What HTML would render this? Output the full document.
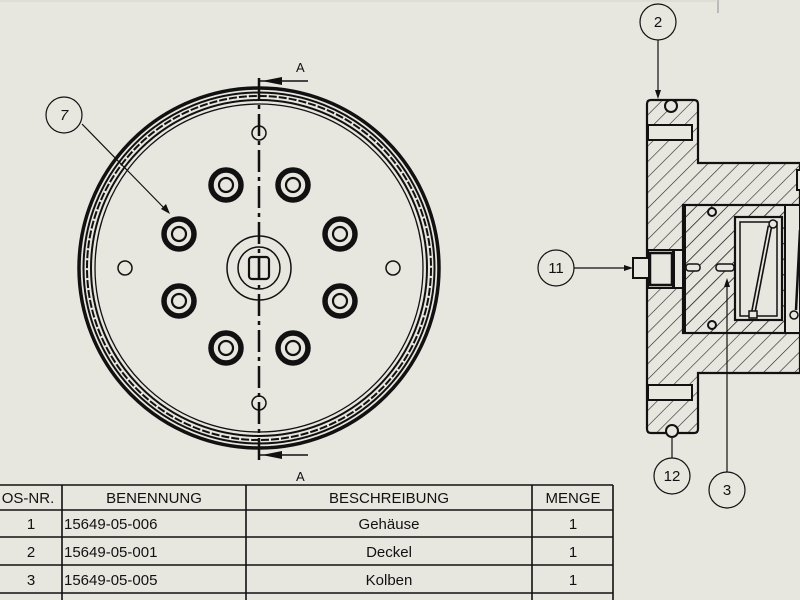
<!DOCTYPE html>
<html><head><meta charset="utf-8"><style>
html,body{margin:0;padding:0;background:#e7e6df;}
svg{display:block}
text{font-family:"Liberation Sans",sans-serif;fill:#111}
</style></head><body>
<svg width="800" height="600" viewBox="0 0 800 600" xmlns="http://www.w3.org/2000/svg">
<defs>
<pattern id="h" width="11" height="11" patternUnits="userSpaceOnUse" patternTransform="rotate(45)">
<line x1="0" y1="0" x2="0" y2="11" stroke="#222" stroke-width="1.2"/>
</pattern>
</defs>
<rect width="800" height="600" fill="#e7e6df"/>
<line x1="718" y1="0" x2="718" y2="13" stroke="#bbb" stroke-width="2"/>
<line x1="0" y1="1" x2="718" y2="1" stroke="#d6d5ce" stroke-width="1"/>

<!-- front view -->
<g fill="none" stroke="#111">
<circle cx="259" cy="268" r="180" stroke-width="3.5"/>
<circle cx="259" cy="268" r="175.5" stroke-width="2"/>
<circle cx="259" cy="268" r="172" stroke-width="2" stroke-dasharray="8 2"/>
<circle cx="259" cy="268" r="168" stroke-width="2"/>
<circle cx="259" cy="268" r="164" stroke-width="1.3"/>
<circle cx="259" cy="268" r="32" stroke-width="1.5"/>
<circle cx="259" cy="268" r="21" stroke-width="1.5"/>
<rect x="249" y="257" width="20" height="22" rx="3" stroke-width="2.2"/>
<line x1="259" y1="257" x2="259" y2="279" stroke-width="2.2"/>
<circle cx="125" cy="268" r="7" stroke-width="1.5"/>
<circle cx="393" cy="268" r="7" stroke-width="1.5"/>
<circle cx="259" cy="133" r="7" stroke-width="1.5"/>
<circle cx="259" cy="403" r="7" stroke-width="1.5"/>
<g stroke-width="5.5">
<circle cx="226" cy="185" r="15"/><circle cx="293" cy="185" r="15"/>
<circle cx="340" cy="234" r="15"/><circle cx="340" cy="301" r="15"/>
<circle cx="293" cy="348" r="15"/><circle cx="226" cy="348" r="15"/>
<circle cx="179" cy="301" r="15"/><circle cx="179" cy="234" r="15"/>
</g>
<g stroke-width="2.2">
<circle cx="226" cy="185" r="7"/><circle cx="293" cy="185" r="7"/>
<circle cx="340" cy="234" r="7"/><circle cx="340" cy="301" r="7"/>
<circle cx="293" cy="348" r="7"/><circle cx="226" cy="348" r="7"/>
<circle cx="179" cy="301" r="7"/><circle cx="179" cy="234" r="7"/>
</g>
<line x1="259" y1="78" x2="259" y2="462" stroke-width="2.5" stroke-dasharray="22 5 4 5"/>
<line x1="259" y1="81" x2="308" y2="81" stroke-width="1.5"/>
<line x1="259" y1="455" x2="308" y2="455" stroke-width="1.5"/>
</g>
<polygon points="262,81 282,77 282,85" fill="#111"/>
<polygon points="262,455 282,451 282,459" fill="#111"/>
<text x="296" y="72" font-size="13">A</text>
<text x="296" y="481" font-size="13">A</text>
<!-- balloon 7 -->
<circle cx="64" cy="115" r="18" fill="none" stroke="#111" stroke-width="1.2"/>
<text x="64" y="120" font-size="15" text-anchor="middle" font-style="italic">7</text>
<line x1="82" y1="124" x2="166" y2="210" stroke="#111" stroke-width="1.2"/>
<polygon points="170,214 161,209 166,204" fill="#111"/>

<!-- section view -->
<path d="M647,104 Q647,100 651,100 L694,100 Q698,100 698,104 L698,163 L800,163 L800,373 L698,373 L698,429 Q698,433 694,433 L651,433 Q647,433 647,429 Z" fill="url(#h)" stroke="#111" stroke-width="2.2"/>
<rect x="648" y="125" width="44" height="15" fill="#e7e6df" stroke="#111" stroke-width="2"/>
<rect x="648" y="385" width="44" height="15" fill="#e7e6df" stroke="#111" stroke-width="2"/>
<circle cx="671" cy="106" r="6" fill="#e7e6df" stroke="#111" stroke-width="2"/>
<circle cx="672" cy="431" r="6" fill="#e7e6df" stroke="#111" stroke-width="2"/>
<rect x="683" y="205" width="117" height="128" fill="url(#h)" stroke="#111" stroke-width="2.2"/>
<rect x="735" y="217" width="47" height="103" fill="#e7e6df" stroke="#111" stroke-width="2.2"/>
<rect x="740" y="222" width="37" height="94" fill="none" stroke="#111" stroke-width="1.5"/>
<rect x="785" y="205" width="15" height="128" fill="#e7e6df" stroke="#111" stroke-width="2"/>
<path d="M753,314 L770,226" stroke="#111" stroke-width="5" fill="none"/>
<path d="M753,314 L770,226" stroke="#e7e6df" stroke-width="1.8" fill="none"/>
<circle cx="773" cy="224" r="4" fill="#e7e6df" stroke="#111" stroke-width="1.5"/>
<rect x="749" y="311" width="8" height="7" fill="#e7e6df" stroke="#111" stroke-width="1.5"/>
<path d="M796,310 L800,230" stroke="#111" stroke-width="2.5"/>
<circle cx="794" cy="315" r="4" fill="#e7e6df" stroke="#111" stroke-width="1.5"/>
<circle cx="712" cy="212" r="4" fill="#e7e6df" stroke="#111" stroke-width="2"/>
<circle cx="712" cy="325" r="4" fill="#e7e6df" stroke="#111" stroke-width="2"/>
<rect x="797" y="170" width="6" height="20" fill="#e7e6df" stroke="#111" stroke-width="2"/>
<!-- fitting -->
<rect x="648" y="250" width="35" height="38" fill="#e7e6df" stroke="#111" stroke-width="2"/>
<rect x="650" y="253" width="22" height="32" fill="none" stroke="#111" stroke-width="2.5"/>
<rect x="672" y="250" width="3" height="38" fill="#111"/>
<rect x="633" y="258" width="16" height="20" fill="#e7e6df" stroke="#111" stroke-width="2"/>
<rect x="683" y="205" width="3" height="128" fill="#111"/>
<rect x="686" y="264" width="14" height="7" rx="3" fill="#e7e6df" stroke="#111" stroke-width="1.5"/>
<rect x="716" y="264" width="18" height="7" rx="3" fill="#e7e6df" stroke="#111" stroke-width="1.5"/>

<!-- balloons -->
<g fill="none" stroke="#111" stroke-width="1.2">
<circle cx="658" cy="22" r="18"/><line x1="658" y1="40" x2="658" y2="93"/>
<circle cx="556" cy="268" r="18"/><line x1="574" y1="268" x2="627" y2="268"/>
<circle cx="672" cy="476" r="18"/><line x1="672" y1="458" x2="672" y2="437"/>
<circle cx="727" cy="490" r="18"/><line x1="727" y1="472" x2="727" y2="283"/>
</g>
<polygon points="658,99 655,90 661,90" fill="#111"/>
<polygon points="633,268 624,265 624,271" fill="#111"/>
<polygon points="727,278 724,287 730,287" fill="#111"/>
<g font-size="15" text-anchor="middle">
<text x="658" y="27">2</text><text x="556" y="273">11</text>
<text x="672" y="481">12</text><text x="727" y="495">3</text>
</g>

<!-- table -->
<g stroke="#111" stroke-width="1.6" fill="none">
<line x1="0" y1="485" x2="613" y2="485"/>
<line x1="0" y1="510" x2="613" y2="510"/>
<line x1="0" y1="537" x2="613" y2="537"/>
<line x1="0" y1="565" x2="613" y2="565"/>
<line x1="0" y1="593" x2="613" y2="593"/>
<line x1="62" y1="485" x2="62" y2="600"/>
<line x1="246" y1="485" x2="246" y2="600"/>
<line x1="532" y1="485" x2="532" y2="600"/>
<line x1="613" y1="485" x2="613" y2="600"/>
</g>
<g font-size="15">
<text x="28" y="503" text-anchor="middle">OS-NR.</text>
<text x="154" y="503" text-anchor="middle">BENENNUNG</text>
<text x="389" y="503" text-anchor="middle">BESCHREIBUNG</text>
<text x="573" y="503" text-anchor="middle">MENGE</text>
<text x="31" y="529" text-anchor="middle">1</text>
<text x="31" y="557" text-anchor="middle">2</text>
<text x="31" y="585" text-anchor="middle">3</text>
<text x="64" y="529">15649-05-006</text>
<text x="64" y="557">15649-05-001</text>
<text x="64" y="585">15649-05-005</text>
<text x="389" y="529" text-anchor="middle">Gehäuse</text>
<text x="389" y="557" text-anchor="middle">Deckel</text>
<text x="389" y="585" text-anchor="middle">Kolben</text>
<text x="573" y="529" text-anchor="middle">1</text>
<text x="573" y="557" text-anchor="middle">1</text>
<text x="573" y="585" text-anchor="middle">1</text>
</g>
</svg>
</body></html>
